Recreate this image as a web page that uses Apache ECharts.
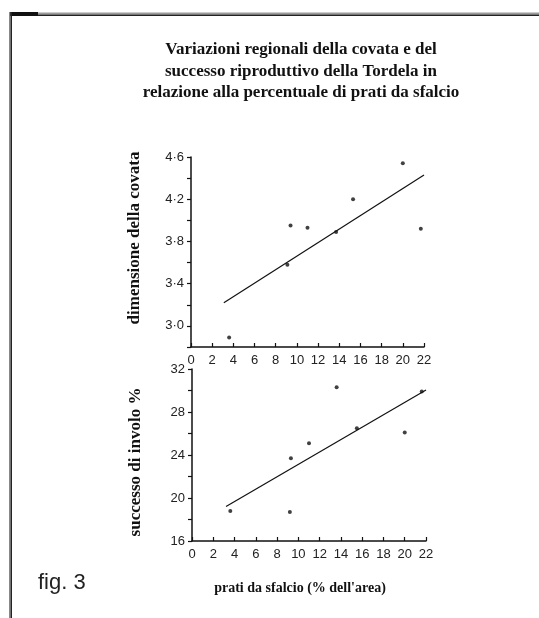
<!DOCTYPE html>
<html>
<head>
<meta charset="utf-8">
<script src="https://cdn.jsdelivr.net/npm/echarts@6/dist/echarts.min.js"></script>
<style>
html,body{margin:0;padding:0;background:#fff;}
#chart{width:539px;height:618px;}
</style>
</head>
<body>
<div id="chart"></div>
<script>
// ---- data ----
var titleLines = ['Variazioni regionali della covata e del', 'successo riproduttivo della Tordela in', 'relazione alla percentuale di prati da sfalcio'];
var figLabel = 'fig. 3';
var xAxisName = "prati da sfalcio (% dell'area)";
var yNameCovata = 'dimensione della covata';
var yNameInvolo = 'successo di involo %';

var xTickValues = [0, 2, 4, 6, 8, 10, 12, 14, 16, 18, 20, 22];
var xTickLabels = ['0', '2', '4', '6', '8', '10', '12', '14', '16', '18', '20', '22'];

var yTickValuesCovata = [3.0, 3.4, 3.8, 4.2, 4.6];
var yTickLabelsCovata = ['3·0', '3·4', '3·8', '4·2', '4·6'];
var yTickValuesInvolo = [16, 20, 24, 28, 32];
var yTickLabelsInvolo = ['16', '20', '24', '28', '32'];

var pratiCovata = [3.6, 9.1, 9.4, 11.0, 13.7, 15.3, 20.0, 21.7];
var covata      = [2.89, 3.58, 3.95, 3.93, 3.89, 4.20, 4.54, 3.92];
var fitCovataX  = [3.1, 22];
var fitCovataY  = [3.22, 4.43];

var pratiInvolo = [3.6, 9.2, 9.3, 11.0, 13.6, 15.5, 20.0, 21.6];
var involo      = [18.8, 18.7, 23.7, 25.1, 30.3, 26.5, 26.1, 29.9];
var fitInvoloX  = [3.2, 22];
var fitInvoloY  = [19.2, 30.05];

// ---- build ----
function pairs(xs, ys) { return xs.map(function (x, i) { return [x, ys[i]]; }); }
function lookup(vals, labels) {
  return function (v) {
    for (var i = 0; i < vals.length; i++) { if (Math.abs(v - vals[i]) < 1e-6) return labels[i]; }
    return '';
  };
}
var tickFont = { fontFamily: 'Liberation Sans', fontSize: 13, color: '#222' };
var axisLine = { show: true, lineStyle: { color: '#111', width: 1.5 } };

function xAxisCfg(gridIndex, withName) {
  var a = {
    type: 'value', gridIndex: gridIndex, min: 0, max: 22, interval: 2,
    axisLine: axisLine,
    axisTick: { show: true, inside: true, length: 4, lineStyle: { color: '#111', width: 1.2 } },
    axisLabel: Object.assign({ margin: 7, formatter: lookup(xTickValues, xTickLabels) }, tickFont),
    splitLine: { show: false }
  };
  if (withName) {
    a.name = xAxisName;
    a.nameLocation = 'middle';
    a.nameGap = 40;
    a.nameTextStyle = { fontFamily: 'Liberation Serif', fontWeight: 'bold', fontSize: 14, color: '#111', padding: [0, 18, 0, 0] };
  }
  return a;
}
function yAxisCfg(gridIndex, min, max, interval, vals, labels, name, pad) {
  return {
    type: 'value', gridIndex: gridIndex, min: min, max: max, interval: interval,
    axisLine: axisLine,
    axisTick: { show: true, inside: false, length: 4, lineStyle: { color: '#111', width: 1.2 } },
    axisLabel: Object.assign({ margin: 7, formatter: lookup(vals, labels) }, tickFont),
    splitLine: { show: false },
    name: name, nameLocation: 'middle', nameRotate: 90, nameGap: 48,
    nameTextStyle: { fontFamily: 'Liberation Serif', fontWeight: 'bold', fontSize: 17, color: '#111', padding: pad }
  };
}

var chart = echarts.init(document.getElementById('chart'), null, { renderer: 'canvas' });
chart.setOption({
  animation: false,
  backgroundColor: '#fff',
  title: [
    { text: titleLines.join('\n'), left: 296, top: 34, textAlign: 'center',
      textStyle: { fontFamily: 'Liberation Serif', fontWeight: 'bold', fontSize: 17, lineHeight: 21.5, color: '#111' } },
    { text: figLabel, left: 33, top: 567,
      textStyle: { fontFamily: 'Liberation Sans', fontWeight: 'normal', fontSize: 22, color: '#222' } }
  ],
  graphic: [
    { type: 'rect', shape: { x: 10, y: 12.5, width: 529, height: 2 }, style: { fill: '#9a9a9a' }, silent: true },
    { type: 'rect', shape: { x: 10, y: 14.5, width: 529, height: 1.5 }, style: { fill: '#222' }, silent: true },
    { type: 'rect', shape: { x: 10, y: 12, width: 28, height: 4 }, style: { fill: '#111' }, silent: true },
    { type: 'rect', shape: { x: 9, y: 12, width: 1.5, height: 606 }, style: { fill: '#888' }, silent: true },
    { type: 'rect', shape: { x: 10.5, y: 12, width: 1.5, height: 606 }, style: { fill: '#222' }, silent: true }
  ],
  grid: [
    { left: 191, top: 157, width: 233, height: 190 },
    { left: 192, top: 369, width: 234, height: 172 }
  ],
  xAxis: [xAxisCfg(0, false), xAxisCfg(1, true)],
  yAxis: [
    yAxisCfg(0, 2.8, 4.6, 0.2, yTickValuesCovata, yTickLabelsCovata, yNameCovata, [0, 0, 0, 28]),
    yAxisCfg(1, 16, 32, 2, yTickValuesInvolo, yTickLabelsInvolo, yNameInvolo, [0, 14, 0, 0])
  ],
  series: [
    { type: 'scatter', xAxisIndex: 0, yAxisIndex: 0, data: pairs(pratiCovata, covata),
      symbol: 'circle', symbolSize: 4, itemStyle: { color: '#111' } },
    { type: 'line', xAxisIndex: 0, yAxisIndex: 0, data: pairs(fitCovataX, fitCovataY),
      showSymbol: false, lineStyle: { color: '#111', width: 1.2 } },
    { type: 'scatter', xAxisIndex: 1, yAxisIndex: 1, data: pairs(pratiInvolo, involo),
      symbol: 'circle', symbolSize: 4, itemStyle: { color: '#111' } },
    { type: 'line', xAxisIndex: 1, yAxisIndex: 1, data: pairs(fitInvoloX, fitInvoloY),
      showSymbol: false, lineStyle: { color: '#111', width: 1.2 } }
  ]
});
</script>
</body>
</html>
